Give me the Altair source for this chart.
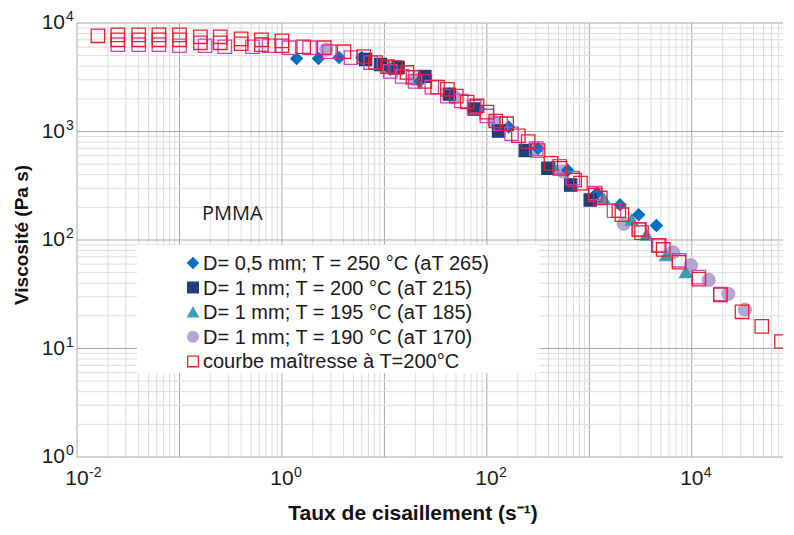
import altair as alt
import pandas as pd

# ---- data ----
S1 = "D= 0,5 mm; T = 250 °C (aT 265)"
S2 = "D= 1 mm; T = 200 °C (aT 215)"
S3 = "D= 1 mm; T = 195 °C (aT 185)"
S4 = "D= 1 mm; T = 190 °C (aT 170)"
S5 = "courbe maîtresse à T=200°C"

diamond_x = [1.39, 2.27, 3.61, 6.01, 11.4, 22.2, 43.1, 83.8, 163, 316, 614, 1190, 1990, 3030, 4510]
diamond_y = [4700, 4700, 4800, 4800, 3730, 2900, 2210, 1610, 1100, 696, 439, 271, 211, 171, 136]

navy_x = [6.56, 9.16, 13.6, 24.8, 43.1, 75.0, 130, 237, 394, 657, 1020]
navy_y = [4600, 4140, 3890, 3220, 2210, 1610, 1010, 668, 458, 321, 234]

tri_x = [441, 1390, 2590, 3610, 5620, 8750]
tri_y = [488, 239, 154, 112, 72.3, 50.6]

circ_x = [2.71, 10.2, 19.9, 48.2, 117, 283, 550, 1190, 2170, 6560, 9780, 14600, 22700, 33000]
circ_y = [5680, 3970, 3030, 2070, 1230, 696, 430, 244, 141, 76.9, 58.6, 42.8, 31.9, 22.8]

red_x = [0.016, 0.025, 0.025, 0.04, 0.04, 0.063, 0.063, 0.1, 0.1, 0.16, 0.16, 0.25, 0.25,
         0.4, 0.4, 0.63, 0.63, 1.0, 1.0, 1.63, 2.59, 4.03, 6.28, 8.19, 10.7, 12.8, 16.6, 19.0,
         24.8, 33.0, 41.2, 50.3, 64.2, 80.1, 100, 122, 156, 203, 253, 316, 422, 515, 718, 819,
         1140, 1280, 1940, 2080, 3030, 3230, 4710, 5260, 7500, 11700, 19000, 30900, 48200, 75000]
red_y = [7620, 7780, 7000, 7780, 7000, 7780, 7000, 7780, 7000, 7460, 6570, 7460, 6570,
         7140, 6440, 7000, 6310, 6850, 6170, 6040, 5920, 5440, 4900, 4320, 3970, 3890, 3500, 3150,
         2900, 2560, 2450, 2120, 1870, 1720, 1510, 1250, 1180, 914, 807, 668, 508, 458, 356, 334,
         260, 244, 186, 171, 125, 117, 89.1, 81.8, 62.4, 43.6, 31.2, 21.8, 16.0, 11.6]

# other shifted data sets of the master curve (magenta squares, not in the legend)
mag_x = [0.025, 0.04, 0.063, 0.1, 0.178, 0.277, 0.515, 0.75, 1.17, 1.86, 2.90, 4.71, 7.33, 11.4,
         14.9, 19.9, 29.0, 41.2, 56.2, 75.0, 100, 136, 174, 303, 515, 687, 1140, 1740, 3090,
         4820, 7500, 11700, 19000]
mag_y = [6310, 6310, 6310, 6170, 6170, 6040, 6040, 6170, 5920, 5920, 5440, 4800, 4320, 3580,
         3220, 2900, 2560, 2120, 1910, 1680, 1390, 1180, 953, 696, 477, 371, 271, 186, 125,
         89.1, 65.0, 45.5, 31.8]

x_tick_vals = [0.01, 1, 100, 10000]
x_tick_exp = ["-2", "0", "2", "4"]
y_tick_vals = [1, 10, 100, 1000, 10000]
y_tick_exp = ["0", "1", "2", "3", "4"]

x_title = "Taux de cisaillement (s⁻¹)"
y_title = "Viscosité (Pa s)"
legend_labels = [S1, S2, S3, S4, S5]

note_x = [0.166]
note_y = [173]
note_t = ["PMMA"]

x_major = [0.01, 0.1, 1, 10, 100, 1000, 10000]
x_minor = [m * d for d in x_major for m in range(2, 10) if m * d <= 77600]
y_major = [1, 10, 100, 1000, 10000]
y_minor = [m * d for d in y_major[:-1] for m in range(2, 10)]

# ---- layout / style ----
W, H = 706, 434
FONT = "Liberation Sans"
TXT = "#1a1a1a"

domain = [S1, S2, S3, S4, S5]
fill_range = ["#0070C0", "#203F7A", "#3A9DB2", "#B3A6D4", "transparent"]
stroke_range = ["#0070C0", "#203F7A", "#3A9DB2", "#B3A6D4", "#E8202A"]
shape_range = ["diamond", "square", "triangle-up", "circle", "square"]
size_range = [140, 180, 120, 175, 180]

xscale = alt.Scale(type="log", domain=[0.01, 77600], nice=False)
yscale = alt.Scale(type="log", domain=[1, 10000], nice=False)

def X(field="x"):
    return alt.X(f"{field}:Q", scale=xscale, axis=None)

def Y(field="y"):
    return alt.Y(f"{field}:Q", scale=yscale, axis=None)

def style_enc(size=True):
    enc = dict(
        fill=alt.Fill("serie:N", scale=alt.Scale(domain=domain, range=fill_range), legend=None),
        stroke=alt.Stroke("serie:N", scale=alt.Scale(domain=domain, range=stroke_range), legend=None),
        shape=alt.Shape("serie:N", scale=alt.Scale(domain=domain, range=shape_range), legend=None),
    )
    if size:
        enc["size"] = alt.Size("serie:N", scale=alt.Scale(domain=domain, range=size_range), legend=None)
    return enc

layers = []

# grid
for vals, color in [(x_minor, "#dcdcdc"), (x_major, "#a8a8a8")]:
    layers.append(alt.Chart(pd.DataFrame({"x": vals})).mark_rule(color=color, strokeWidth=1)
                  .encode(x=X()))
for vals, color in [(y_minor, "#dcdcdc"), (y_major, "#a8a8a8")]:
    layers.append(alt.Chart(pd.DataFrame({"y": vals})).mark_rule(color=color, strokeWidth=1)
                  .encode(y=Y()))

# data series (filled ones under the squares of the master curve)
parts = [(circ_x, circ_y, S4), (tri_x, tri_y, S3), (diamond_x, diamond_y, S1), (navy_x, navy_y, S2)]
rows = []
for xs, ys, s in parts:
    for a, b in zip(xs, ys):
        rows.append({"x": a, "y": b, "serie": s})
df_filled = pd.DataFrame(rows)
df_red = pd.DataFrame({"x": red_x, "y": red_y, "serie": [S5] * len(red_x)})
df_mag = pd.DataFrame({"x": mag_x, "y": mag_y})

layers.append(alt.Chart(df_filled).mark_point(opacity=1, strokeWidth=1.2, clip=True)
              .encode(x=X(), y=Y(), **style_enc()))
layers.append(alt.Chart(df_mag).mark_point(shape="square", size=180, strokeWidth=1.3, opacity=1,
                                           color="#D43CCB", filled=False, clip=True)
              .encode(x=X(), y=Y()))
layers.append(alt.Chart(df_red).mark_point(opacity=1, strokeWidth=1.3, clip=True)
              .encode(x=X(), y=Y(), **style_enc()))

# annotation
layers.append(alt.Chart(pd.DataFrame({"x": note_x, "y": note_y, "t": note_t}))
              .mark_text(font="Open Sans", fontSize=20, align="left", baseline="middle", color=TXT)
              .encode(x=X(), y=Y(), text="t:N"))

# tick labels 10^n
xl = pd.DataFrame({"x": x_tick_vals, "e": x_tick_exp, "b": ["10"] * len(x_tick_vals)})
layers.append(alt.Chart(xl).mark_text(font=FONT, fontSize=21, align="center", baseline="middle", color=TXT)
              .encode(x=X(), y=alt.value(H + 22), text="b:N"))
layers.append(alt.Chart(xl).mark_text(font=FONT, fontSize=14, align="left", baseline="middle", dx=12, color=TXT)
              .encode(x=X(), y=alt.value(H + 16), text="e:N"))
yl = pd.DataFrame({"y": y_tick_vals, "e": y_tick_exp, "b": ["10"] * len(y_tick_vals)})
layers.append(alt.Chart(yl).mark_text(font=FONT, fontSize=21, align="right", baseline="middle", color=TXT)
              .encode(y=Y(), x=alt.value(-12), text="b:N"))
layers.append(alt.Chart(yl).mark_text(font=FONT, fontSize=14, align="left", baseline="middle", dy=-6, color=TXT)
              .encode(y=Y(), x=alt.value(-11), text="e:N"))

# axis titles
layers.append(alt.Chart(pd.DataFrame({"t": [x_title]}))
              .mark_text(font=FONT, fontSize=21, fontWeight="bold", align="center", baseline="middle", color="#111111")
              .encode(x=alt.value(336), y=alt.value(H + 57), text="t:N"))
layers.append(alt.Chart(pd.DataFrame({"t": [y_title]}))
              .mark_text(font=FONT, fontSize=19, fontWeight="bold", align="center", baseline="middle",
                         angle=270, color="#111111")
              .encode(x=alt.value(-55), y=alt.value(212), text="t:N"))

# legend box
layers.append(alt.Chart(pd.DataFrame({"k": [0]})).mark_rect(color="white")
              .encode(x=alt.value(60), x2=alt.value(462), y=alt.value(222), y2=alt.value(350)))
for i, s in enumerate(legend_labels):
    row = pd.DataFrame({"serie": [s]})
    ypix = 240 + 24.6 * i
    layers.append(alt.Chart(row).mark_point(opacity=1, size=115, strokeWidth=1.3)
                  .encode(x=alt.value(116), y=alt.value(ypix), **style_enc(size=False)))
    layers.append(alt.Chart(row).mark_text(font=FONT, fontSize=20, align="left", baseline="middle", color=TXT)
                  .encode(x=alt.value(126), y=alt.value(ypix + 1), text="serie:N"))

chart = alt.layer(*layers).properties(
    width=W, height=H,
    padding={"left": 5, "top": 2, "right": 0, "bottom": 0},
    background="white",
).configure(font=FONT, view=alt.ViewConfig(stroke=None))

chart.save("out.html", embed_options={"renderer": "svg", "actions": False})
